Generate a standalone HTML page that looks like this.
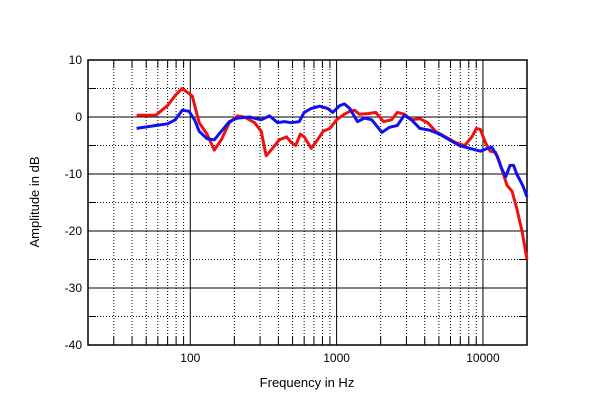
<!DOCTYPE html>
<html><head><meta charset="utf-8"><style>
body{margin:0;background:#fff;}
svg{display:block;font-family:"Liberation Sans",Arial,sans-serif;}
</style></head><body>
<svg id="chart" width="600" height="408"></svg>
<script>
const xTicks=[100,1000,10000];
const xTickLabels=["100","1000","10000"];
const yTicks=[10,0,-10,-20,-30,-40];
const yTickLabels=["10","0","-10","-20","-30","-40"];
const redFreq=[43,58,70,79,88,103,115,130,146,163,185,210,234,275,305,330,365,405,455,490,525,565,600,670,740,810,900,1000,1130,1230,1330,1430,1640,1850,2090,2370,2600,2900,3250,3700,4200,4750,5550,6500,7500,8400,9000,9600,10400,11200,12200,13400,14600,15800,17000,18500,20000];
const redDb=[0.3,0.3,2,3.8,5,3.7,-1,-3,-5.8,-4,-1,0.2,0,-1,-2.5,-6.8,-5.5,-4,-3.5,-4.5,-5,-3,-3.5,-5.5,-4,-2.5,-2,-0.5,0.5,1,1.2,0.5,0.6,0.8,-0.8,-0.5,0.8,0.5,-0.5,-0.3,-1,-2.5,-3.5,-4.5,-5,-3.5,-2,-2.2,-4.5,-6,-6.2,-9,-12,-13,-16,-20,-25];
const blueFreq=[43,58,70,79,88,98,107,115,130,146,163,185,210,254,305,348,395,440,490,555,600,670,765,870,940,1050,1130,1230,1390,1550,1740,2040,2300,2600,2900,3250,3700,4300,5050,5900,6900,8100,9600,10800,11500,12600,13400,14300,15300,16200,17000,18700,20000];
const blueDb=[-2,-1.5,-1.2,-0.5,1.2,1,-0.5,-2.5,-3.8,-4,-2.5,-0.8,-0.2,0,-0.5,0.2,-1,-0.8,-1,-0.8,0.8,1.5,1.9,1.5,0.8,2,2.3,1.5,-0.8,-0.2,-0.5,-2.7,-1.8,-1.5,0.3,-0.5,-2,-2.3,-3,-4,-5,-5.5,-6,-5.5,-5.3,-7,-9,-10.5,-8.5,-8.5,-10,-12,-14];

const L=88,R=527,T=60,B=345;
const X=f=>L+(Math.log10(f)-Math.log10(20))/3*(R-L);
const Y=d=>T+(10-d)/50*(B-T);
const svg=document.getElementById('chart');
const NS="http://www.w3.org/2000/svg";
function mk(tag,attrs,parent){const e=document.createElementNS(NS,tag);for(const k in attrs)e.setAttribute(k,attrs[k]);(parent||svg).appendChild(e);return e;}

const grid=mk('g',{});


// minor verticals
for(let dec=10;dec<=10000;dec*=10){for(let m=2;m<=9;m++){const f=m*dec;if(f<20||f>=20000)continue;const x=X(f);
mk('line',{x1:x,x2:x,y1:T,y2:B,stroke:'#000','stroke-width':1,'stroke-dasharray':'1,2'},grid);
mk('line',{x1:x,x2:x,y1:T,y2:T+8,stroke:'#000','stroke-width':1},grid);
mk('line',{x1:x,x2:x,y1:B-8,y2:B,stroke:'#000','stroke-width':1},grid);}}
// half-decade horizontal dotted
for(let d=5;d>-40;d-=10){const y=Y(d);
mk('line',{x1:L,x2:R,y1:y,y2:y,stroke:'#000','stroke-width':1,'stroke-dasharray':'1,2'},grid);
mk('line',{x1:L,x2:L+8,y1:y,y2:y,stroke:'#000','stroke-width':1},grid);
mk('line',{x1:R-8,x2:R,y1:y,y2:y,stroke:'#000','stroke-width':1},grid);}
xTicks.forEach((f,i)=>{const x=X(f);
mk('line',{x1:x,x2:x,y1:T,y2:B,stroke:'#000','stroke-width':1},grid);
const t=mk('text',{x:x,y:B+17,'text-anchor':'middle','font-size':12});t.textContent=xTickLabels[i];

});
yTicks.forEach((d,i)=>{const y=Y(d);
mk('line',{x1:L,x2:R,y1:y,y2:y,stroke:'#000','stroke-width':1},grid);
const t=mk('text',{x:L-6,y:y+4,'text-anchor':'end','font-size':12});t.textContent=yTickLabels[i];

});
const frame=mk('rect',{x:L,y:T,width:R-L,height:B-T,fill:'none',stroke:'#000','stroke-width':1.5});



function series(fs,ds,color,name){const p=mk('polyline',{points:fs.map((f,i)=>X(f).toFixed(1)+','+Y(ds[i]).toFixed(1)).join(' '),fill:'none',stroke:color,'stroke-width':3,'stroke-linejoin':'round'});

}
series(redFreq,redDb,'#f01010','red-response-line');
series(blueFreq,blueDb,'#1010f0','blue-response-line');

const xt=mk('text',{x:307,y:387,'text-anchor':'middle','font-size':13});xt.textContent='Frequency in Hz';


const yt=mk('text',{x:0,y:0,'text-anchor':'middle','font-size':13,transform:'translate(39,202) rotate(-90)'});yt.textContent='Amplitude in dB';


</script>
</body></html>
